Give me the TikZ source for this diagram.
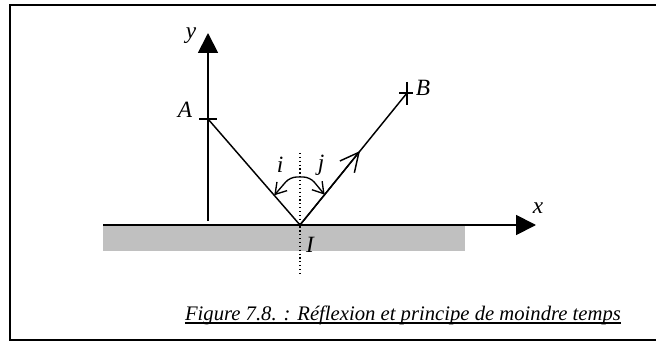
\documentclass[tikz,border=0pt]{standalone}
\usepackage{fontspec}
\setmainfont{Liberation Serif}
\usetikzlibrary{arrows.meta,calc}
\definecolor{groundgray}{HTML}{C0C0C0}
\tikzset{
  axis/.style={line width=1.4pt,-{Triangle[length=15pt,width=15pt]}},
  ray/.style={line width=1.1pt},
  lbl/.style={font=\fontsize{17.5}{17.5}\selectfont\itshape,inner sep=0pt},
}
\begin{document}
\begin{tikzpicture}[x=0.75pt,y=-0.75pt]
  \useasboundingbox (0,0) rectangle (656,342);
  \draw[line width=1.5pt] (10,5) rectangle (670,340);
  % points
  \coordinate (A) at (208,119);
  \coordinate (B) at (407,93);
  \coordinate (I) at (300,225);
  \coordinate (O) at (208,221);
  \coordinate (ytip) at (208,33);
  \coordinate (g0) at (103,225);
  \coordinate (xtip) at (536,225);
  % mirror and axes
  \fill[groundgray] (103,226) rectangle (465,251);
  \draw[axis] (g0) -- (xtip);
  \draw[axis] (O) -- (ytip);
  \draw[dotted,line width=0.9pt] (300,153) -- (300,275);
  % ticks on A and B
  \draw[ray] ($(A)+(-9,0)$) -- ($(A)+(9,0)$);
  \draw[line width=2pt] ($(A)+(0,-12)$) -- ($(A)+(0,10)$);
  \draw[ray] ($(B)+(-8,0)$) -- ($(B)+(6,0)$);
  \draw[ray] ($(B)+(0,-11)$) -- ($(B)+(0,12)$);
  % rays
  \draw[ray] (A) -- (I) -- (B);
  \draw[ray,-{Straight Barb[length=14pt,width=14pt]}] (I) -- ($(I)!0.56!(B)$);
  % angles i and j
  \coordinate (ei) at ($(I)!0.28!(A)$);
  \coordinate (ej) at ($(I)!0.23!(B)$);
  \draw[line width=1pt,rounded corners=5pt,{Straight Barb[length=8pt,width=10pt]}-{Straight Barb[length=8pt,width=10pt]}]
    (ei) -- (290,177) -- (310,177) -- (ej);
  % labels
  \node[lbl] (ylbl) at (191,36) {y};
  \node[lbl] (xlbl) at (538,208) {x};
  \node[lbl] (Albl) at (185,110) {A};
  \node[lbl] (Blbl) at (423,88) {B};
  \node[lbl] (Ilbl) at (310,245) {I};
  \node[lbl] (ilbl) at (280,165) {i};
  \node[lbl] (jlbl) at (321,165) {j};
  \node[anchor=base,inner sep=0pt,font=\fontsize{15.5}{15.5}\selectfont\itshape] (caption) at (403,320)
    {Figure 7.8. : Réflexion et principe de moindre temps};
  \draw[line width=1.2pt] ($(caption.base west)+(0,3)$) -- ($(caption.base east)+(0,3)$);
\end{tikzpicture}
\end{document}
